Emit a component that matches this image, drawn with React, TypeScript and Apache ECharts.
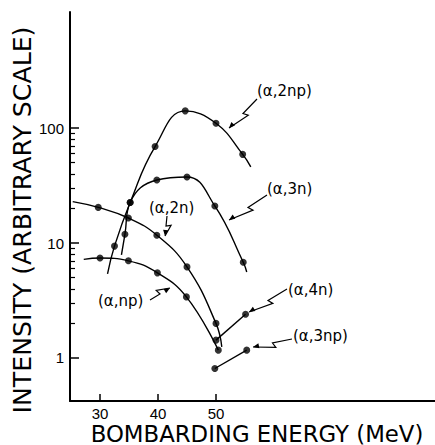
import React, { useEffect, useRef } from 'react';
import * as echarts from 'echarts';

// ---- axis ticks ----
const xTickValues = [30, 40, 50];
const yTickValues = [1, 10, 100];
const yMinorTickValues = [2, 3, 4, 5, 6, 7, 8, 9, 20, 30, 40, 50, 60, 70, 80, 90];

// ---- data (energy MeV, intensity arbitrary) ----
const a2npEnergy = [32.5, 35.2, 39.5, 44.7, 50.0, 54.6];
const a2npIntensity = [9.4, 22.5, 69, 141, 110, 59];
const a2npCurveStart = [31.3, 5.4];
const a2npCurveEnd = [56.0, 46];

const a3nEnergy = [34.3, 35.2, 39.8, 45.0, 49.8, 54.7];
const a3nIntensity = [11.9, 22.5, 35.3, 37.5, 21.0, 6.8];
const a3nCurveStart = [33.7, 7.9];
const a3nCurveEnd = [55.3, 5.6];

const a2nEnergy = [29.7, 34.9, 39.8, 45.0, 50.0];
const a2nIntensity = [20.4, 16.5, 11.7, 6.2, 2.0];
const a2nCurveStart = [25.3, 22.9];
const a2nCurveEnd = [51.0, 1.25];

const anpEnergy = [30.0, 34.9, 39.9, 44.9, 50.4];
const anpIntensity = [7.4, 7.0, 5.5, 3.4, 1.17];
const anpCurveStart = [27.2, 7.2];

const a4nEnergy = [50.0, 55.1];
const a4nIntensity = [1.43, 2.4];

const a3npEnergy = [49.8, 55.3];
const a3npIntensity = [0.81, 1.17];

const X_MIN = 24.83;
const X_MAX = 87.76;
const Y_MIN = -0.374;
const Y_MAX = 3.009;

const lg = (v: number) => Math.log10(v);
const pts = (e: number[], i: number[]) => e.map((x, k) => [x, lg(i[k])]);
const pt = (p: number[]) => [p[0], lg(p[1])];

function bolt(S: number[], E: number[]) {
  const dx = E[0] - S[0];
  const dy = E[1] - S[1];
  const L = Math.hypot(dx, dy);
  const ux = dx / L;
  const uy = dy / L;
  const nx = -uy;
  const ny = ux;
  const p = (t: number, o: number) => [S[0] + ux * L * t + nx * o, S[1] + uy * L * t + ny * o];
  const head = 6;
  return [
    {
      type: 'polyline',
      shape: { points: [S, p(0.5, 0), p(0.44, -5), E] },
      style: { stroke: '#000', lineWidth: 1.2, fill: null },
      silent: true,
    },
    {
      type: 'polygon',
      shape: {
        points: [
          E,
          [E[0] - ux * head + nx * 2.5, E[1] - uy * head + ny * 2.5],
          [E[0] - ux * head - nx * 2.5, E[1] - uy * head - ny * 2.5],
        ],
      },
      style: { fill: '#000' },
      silent: true,
    },
  ];
}

const labelFont = 'DejaVu Sans';

function label(text: string, x: number, y: number) {
  return {
    type: 'text',
    x,
    y,
    silent: true,
    style: { text, fontSize: 15, fontFamily: labelFont, fill: '#000', align: 'left', verticalAlign: 'middle' },
  };
}

export default function App() {
  const ref = useRef<HTMLDivElement>(null);
  useEffect(() => {
    if (!ref.current) return;
    const chart = echarts.init(ref.current, null, { renderer: 'svg' });
    const curve = (data: number[][]) => ({
      type: 'line',
      data,
      smooth: 0.45,
      showSymbol: false,
      symbol: 'none',
      lineStyle: { color: '#000', width: 1.4 },
      silent: true,
      z: 2,
    });
    const dots = (data: number[][]) => ({
      type: 'scatter',
      data,
      symbol: 'circle',
      symbolSize: 7,
      itemStyle: { color: '#000' },
      silent: true,
      z: 3,
    });
    const option: any = {
      animation: false,
      grid: { left: 70, right: 0, top: 12, bottom: 44, containLabel: false },
      xAxis: {
        type: 'value',
        min: X_MIN,
        max: X_MAX,
        axisLine: { show: true, onZero: false, lineStyle: { color: '#000', width: 2 } },
        axisTick: { show: true, inside: true, length: 7, customValues: xTickValues, lineStyle: { color: '#000', width: 1.5 } },
        axisLabel: {
          customValues: xTickValues,
          color: '#000',
          fontSize: 15,
          lineHeight: 14,
          fontFamily: 'Liberation Sans',
          margin: 5,
          formatter: (v: number) => String(v),
        },
        splitLine: { show: false },
      },
      yAxis: [
        {
          type: 'value',
          min: Y_MIN,
          max: Y_MAX,
          axisLine: { show: true, onZero: false, lineStyle: { color: '#000', width: 2 } },
          axisTick: { show: true, inside: true, length: 9, customValues: yTickValues.map(lg), lineStyle: { color: '#000', width: 1.5 } },
          axisLabel: {
            customValues: yTickValues.map(lg),
            color: '#000',
            fontSize: 15,
            fontFamily: 'Liberation Sans',
            margin: 6,
            formatter: (v: number) => String(Math.round(Math.pow(10, v))),
          },
          splitLine: { show: false },
        },
        {
          type: 'value',
          min: Y_MIN,
          max: Y_MAX,
          position: 'left',
          axisLine: { show: false },
          axisTick: { show: true, inside: true, length: 5, customValues: yMinorTickValues.map(lg), lineStyle: { color: '#000', width: 1.2 } },
          axisLabel: { show: false },
          splitLine: { show: false },
        },
      ],
      series: [
        curve([pt(a2npCurveStart), ...pts(a2npEnergy, a2npIntensity), pt(a2npCurveEnd)]),
        dots(pts(a2npEnergy, a2npIntensity)),
        curve([pt(a3nCurveStart), ...pts(a3nEnergy, a3nIntensity), pt(a3nCurveEnd)]),
        dots(pts(a3nEnergy, a3nIntensity)),
        curve([pt(a2nCurveStart), ...pts(a2nEnergy, a2nIntensity), pt(a2nCurveEnd)]),
        dots(pts(a2nEnergy, a2nIntensity)),
        curve([pt(anpCurveStart), ...pts(anpEnergy, anpIntensity)]),
        dots(pts(anpEnergy, anpIntensity)),
        curve(pts(a4nEnergy, a4nIntensity)),
        dots(pts(a4nEnergy, a4nIntensity)),
        curve(pts(a3npEnergy, a3npIntensity)),
        dots(pts(a3npEnergy, a3npIntensity)),
      ],
      graphic: [
        {
          type: 'text',
          x: 22,
          y: 220,
          rotation: Math.PI / 2,
          silent: true,
          style: {
            text: 'INTENSITY (ARBITRARY SCALE)',
            fontSize: 25.2,
            lineHeight: 20,
            fontFamily: 'DejaVu Sans',
            fill: '#000',
            align: 'center',
            verticalAlign: 'middle',
          },
        },
        {
          type: 'text',
          x: 257,
          y: 433.5,
          silent: true,
          style: {
            text: 'BOMBARDING ENERGY (MeV)',
            fontSize: 22.8,
            lineHeight: 17,
            fontFamily: 'DejaVu Sans',
            fill: '#000',
            align: 'center',
            verticalAlign: 'middle',
          },
        },
        label('(α,2np)', 257, 91),
        label('(α,3n)', 267, 189),
        label('(α,2n)', 149, 208),
        label('(α,np)', 98, 301),
        label('(α,4n)', 288, 290),
        label('(α,3np)', 293, 336),
        ...bolt([257, 99], [229, 128]),
        ...bolt([267, 195], [229, 220]),
        ...bolt([167, 216], [165, 236]),
        ...bolt([150, 300], [170, 288]),
        ...bolt([287, 289], [249, 312]),
        ...bolt([292, 339], [253, 347]),
      ],
    };
    chart.setOption(option);
    return () => chart.dispose();
  }, []);
  return (
    <div
      ref={ref}
      style={{ position: 'fixed', left: 0, top: 0, width: 435, height: 445, background: '#fff' }}
    />
  );
}
